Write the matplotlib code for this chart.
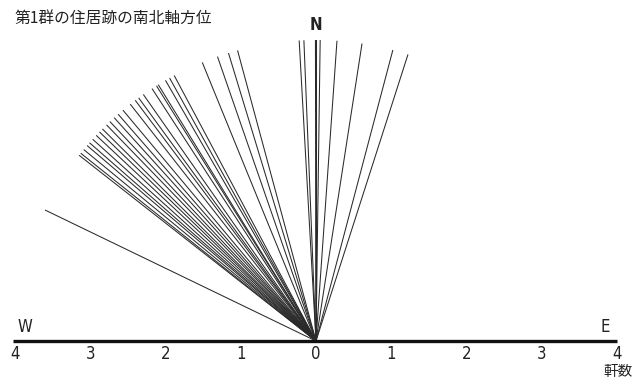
import numpy as np
import matplotlib
matplotlib.use("Agg")
import matplotlib.pyplot as plt

plt.rcParams['font.family'] = ['Noto Sans CJK JP', 'DejaVu Sans']

# azimuth of each house's N-S axis, degrees from north (east positive, west negative)
azimuths = [
    -64.2,
    -51.9, -51.4, -50.5, -49.5, -48.8, -47.9, -46.9, -46.0, -45.2, -44.1,
    -43.2, -42.1, -41.1, -39.9, -38.1, -36.9, -36.1, -35.0, -33.0, -32.0,
    -31.6, -30.0, -29.1, -28.1,
    -22.2, -19.1, -16.9, -15.1,
    -3.2, -2.3, -0.1, 0.0, 0.1, 0.8, 4.0, 8.8, 14.8, 17.8,
]
line_length = 4
tick_values = [-4, -3, -2, -1, 0, 1, 2, 3, 4]
tick_labels = [str(abs(v)) for v in tick_values]
title = "第1群の住居跡の南北軸方位"

fig = plt.figure(figsize=(6.4, 3.85), dpi=100)
ax = fig.add_axes([0, 0, 1, 1])
ax.set_xlim(-4.199, 4.306)
ax.set_ylim(-0.585, 4.532)
ax.axis('off')

for a in azimuths:
    t = np.radians(a)
    ax.plot([0, line_length * np.sin(t)], [0, line_length * np.cos(t)],
            color='#2a2a2a', lw=0.75, solid_capstyle='butt')

# baseline
ax.plot([-4.02, 4.0], [0, 0], color='#111111', lw=2.4, solid_capstyle='butt')

narrow = dict(family=['DejaVu Sans'], fontstretch='condensed', color='#222222')
for v, lab in zip(tick_values, tick_labels):
    ax.text(v, -0.06, lab, ha='center', va='top', fontsize=12, **narrow)

ax.text(0, 4.08, 'N', ha='center', va='bottom', fontsize=12, fontweight='bold', **narrow)
ax.text(-3.87, 0.07, 'W', ha='center', va='bottom', fontsize=12, **narrow)
ax.text(3.85, 0.07, 'E', ha='center', va='bottom', fontsize=12, **narrow)
ax.text(4.02, -0.41, '軒数', ha='center', va='center', fontsize=10.5, color='#222222')

fig.text(0.023, 0.953, title, ha='left', va='center', fontsize=11.3, color='#222222')

fig.savefig('out.png', dpi=100)
